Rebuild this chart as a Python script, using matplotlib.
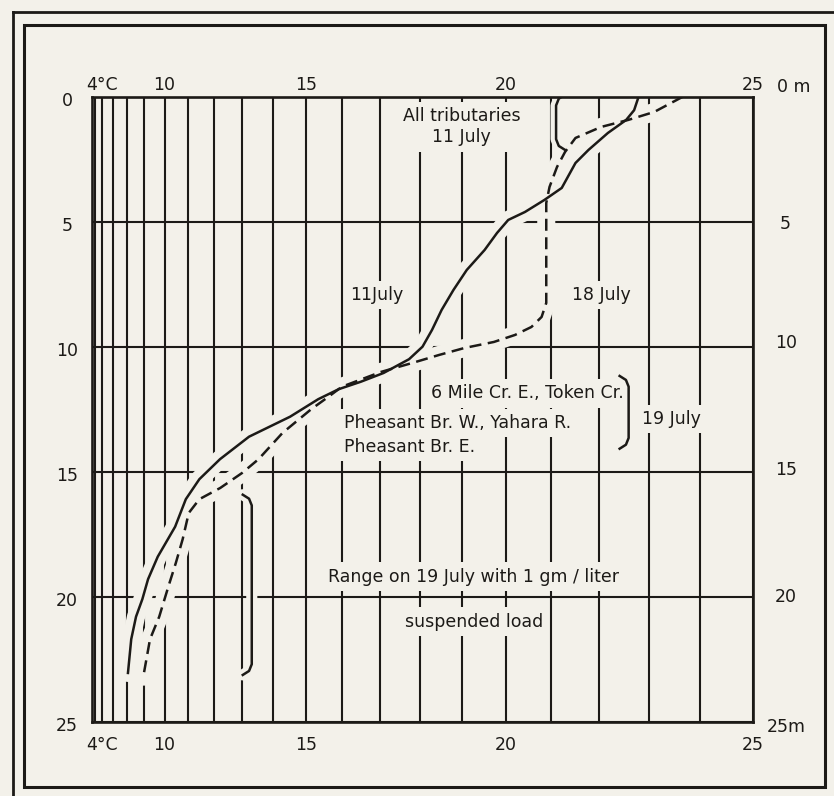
import numpy as np
import matplotlib.pyplot as plt
import matplotlib.transforms as mtransforms
from matplotlib.patches import Rectangle
from matplotlib.lines import Line2D

BG = "#f3f1ea"
INK = "#1c1a17"

# temperature profile on 11 July (solid line)
jul11_temp = [22.8, 22.71, 22.55, 22.18, 21.78, 21.51, 21.22, 20.85, 20.43, 20.06,
              19.81, 19.53, 19.12, 18.81, 18.53, 18.30, 18.07, 17.74, 17.10, 16.51,
              15.91, 15.34, 14.52, 13.23, 12.23, 11.46, 10.92, 10.47, 9.68, 9.2,
              8.9, 8.55, 8.27, 8.07]
jul11_depth = [0.0, 0.54, 0.93, 1.45, 2.13, 2.65, 3.65, 4.13, 4.61, 4.93,
               5.45, 6.13, 6.93, 7.73, 8.53, 9.33, 10.0, 10.5, 11.05, 11.4,
               11.7, 12.1, 12.8, 13.6, 14.5, 15.3, 16.1, 17.2, 18.4, 19.3,
               20.1, 20.8, 21.7, 23.05]

# temperature profile on 18 July (dashed line)
jul18_temp = [23.67, 23.11, 22.59, 22.04, 21.51, 21.29, 21.12, 20.96, 20.89, 20.89,
              20.89, 20.79, 20.57, 20.21, 19.74, 19.07, 18.47, 17.82, 17.03, 16.0,
              15.63, 15.14, 14.29, 13.54, 13.0, 12.24, 11.46, 11.04, 10.79, 10.5,
              10.17, 9.75, 9.3, 8.95]
jul18_depth = [0.0, 0.61, 0.93, 1.21, 1.65, 2.21, 2.81, 3.61, 4.25, 5.33,
               8.25, 8.81, 9.21, 9.53, 9.81, 10.05, 10.33, 10.65, 11.01, 11.6,
               12.0, 12.5, 13.45, 14.5, 15.05, 15.65, 16.1, 16.65, 17.7, 18.65,
               19.6, 20.8, 21.7, 23.2]

# range brackets: tributaries 11 July, tributaries 19 July, suspended-load range
bracket_temp = [21.1, 22.6, 13.32]
bracket_top = [0.0, 11.25, 16.0]
bracket_bottom = [2.05, 14.0, 23.05]
bracket_open = ["right", "left", "left"]

temp_ticks = [4, 10, 15, 20, 25]
temp_labels = ["4°C", "10", "15", "20", "25"]
depth_ticks = [0, 5, 10, 15, 20, 25]
depth_labels_left = ["0", "5", "10", "15", "20", "25"]
depth_labels_right = ["0 m", "5", "10", "15", "20", "25m"]


# x axis is drawn on a water-density-like scale
def deficit(t):
    t = np.clip(np.asarray(t, dtype=float), 0, 40)
    dt = np.clip(t - 3.983035, 0, None)
    return (dt**2 * (t + 301.797) / (522528.9 * (t + 69.34881)) * 999.975) ** 0.93


_tt = np.linspace(3.983035, 40, 6000)
_ff = deficit(_tt)


def inv_deficit(v):
    return np.interp(np.asarray(v, dtype=float), _ff, _tt)


plt.rcParams["font.family"] = "DejaVu Sans"
fig = plt.figure(figsize=(8.34, 7.96), dpi=100, facecolor=BG)
ax = fig.add_axes([92 / 834, 1 - 721.7 / 796, 661 / 834, 625 / 796])
ax.set_facecolor(BG)
ax.set_xscale("function", functions=(deficit, inv_deficit))
ax.set_xlim(4, 25)
ax.set_ylim(25, 0)

ax.set_xticks(np.arange(4, 26))
ax.set_yticks(depth_ticks)
ax.tick_params(length=0, labelbottom=False, labelleft=False)
ax.set_axisbelow(True)
ax.grid(True, color=INK, lw=1.5)
for sp in ax.spines.values():
    sp.set_linewidth(1.9)
    sp.set_color(INK)
    sp.set_zorder(2.5)

# background-coloured halos so the grid breaks around the curves
halo = dict(color=BG, lw=13, solid_capstyle="round", zorder=1.5)
ax.plot(jul11_temp, jul11_depth, **halo)
ax.plot(jul18_temp, jul18_depth, **halo)

ax.plot(jul11_temp, jul11_depth, color=INK, lw=1.8, zorder=3)
ax.plot(jul18_temp, jul18_depth, color=INK, lw=1.8, ls=(0, (4.8, 2.6)), zorder=3)

# brackets
hook = 9 / 661 * deficit(25)
for t, d0, d1, side in zip(bracket_temp, bracket_top, bracket_bottom, bracket_open):
    s = 1 if side == "right" else -1
    f = deficit(t)
    th = inv_deficit(f + s * hook)
    tm = inv_deficit(f + s * hook * 0.3)
    xs = [th, tm, t, t, tm, th]
    ys = [d0 - 0.08, d0 + 0.08, d0 + 0.35, d1 - 0.35, d1 - 0.08, d1 + 0.08]
    ax.plot(xs, ys, color=BG, lw=8, solid_capstyle="round", zorder=1.5)
    ax.plot(xs, ys, color=INK, lw=1.8, zorder=3, solid_joinstyle="round")

# axis labels
px = lambda dx, dy: mtransforms.ScaledTranslation(dx / 100, dy / 100, fig.dpi_scale_trans)
xt = ax.get_xaxis_transform()
yt = ax.get_yaxis_transform()
fs = 12.5
for v, s in zip(temp_ticks, temp_labels):
    dx = 10 if v == 4 else 0
    ax.text(v, 1, s, transform=xt + px(dx, 12), ha="center", va="center", fontsize=fs, color=INK)
    ax.text(v, 0, s, transform=xt + px(dx, -23), ha="center", va="center", fontsize=fs, color=INK)

right_off = [(24, 10), (27, -2), (22, 4), (22, 2), (22, 0), (14, -5)]
for v, sl, sr, (ox, oy) in zip(depth_ticks, depth_labels_left, depth_labels_right, right_off):
    ax.text(0, v, sl, transform=yt + px(-25, -4), ha="center", va="center", fontsize=fs, color=INK)
    ax.text(1, v, sr, transform=yt + px(ox, oy), ha="left", va="center", fontsize=fs, color=INK)

# annotations
box = dict(boxstyle="square,pad=0.3", fc=BG, ec="none")
txt = dict(fontsize=fs, color=INK, zorder=2, bbox=box)
ax.text(19.0, 1.2, "All tributaries\n11 July", ha="center", va="center", linespacing=1.25, **txt)
ax.text(16.92, 7.93, "11July", ha="center", va="center", **txt)
ax.text(22.04, 7.93, "18 July", ha="center", va="center", **txt)
ax.text(22.5, 11.87, "6 Mile Cr. E., Token Cr.", ha="right", va="center", **txt)
ax.text(16.05, 13.05, "Pheasant Br. W., Yahara R.", ha="left", va="center", **txt)
ax.text(16.05, 14.0, "Pheasant Br. E.", ha="left", va="center", **txt)
ax.text(23.44, 12.9, "19 July", ha="center", va="center", **txt)
ax.text(19.28, 19.2, "Range on 19 July with 1 gm / liter", ha="center", va="center", **txt)
ax.text(19.28, 21.0, "suspended load", ha="center", va="center", **txt)

# frame around the whole figure, plus the outer page rule
fig.add_artist(Rectangle((24 / 834, 1 - 787 / 796), 801 / 834, 762 / 796,
                         transform=fig.transFigure, fill=False, lw=2.2, ec=INK))
fig.add_artist(Line2D([13 / 834, 13 / 834], [0, 1 - 12 / 796], transform=fig.transFigure,
                      color=INK, lw=2.0))
fig.add_artist(Line2D([13 / 834, 1], [1 - 12 / 796, 1 - 12 / 796], transform=fig.transFigure,
                      color=INK, lw=2.0))

fig.savefig("out.png", dpi=100, facecolor=BG)
